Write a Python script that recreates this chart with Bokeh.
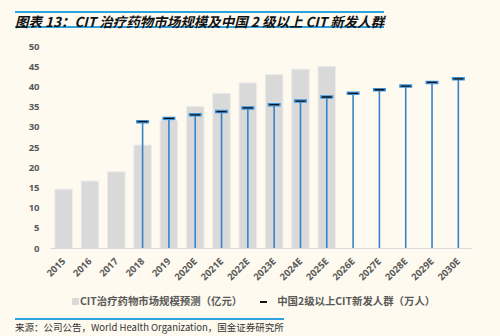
from bokeh.plotting import figure
from bokeh.layouts import column
from bokeh.models import FactorRange, Div, ColumnDataSource, SingleIntervalTicker
from bokeh.embed import file_html
from bokeh.resources import INLINE
from math import pi

years = ["2015", "2016", "2017", "2018", "2019", "2020E", "2021E", "2022E",
         "2023E", "2024E", "2025E", "2026E", "2027E", "2028E", "2029E", "2030E"]
market = [14.7, 16.7, 19.0, 25.6, 31.7, 35.2, 38.4, 41.0, 43.1, 44.4, 45.1]
pop_years = ["2018", "2019", "2020E", "2021E", "2022E", "2023E", "2024E", "2025E",
             "2026E", "2027E", "2028E", "2029E", "2030E"]
population = [31.4, 32.2, 33.1, 33.9, 34.8, 35.6, 36.5, 37.5, 38.4, 39.3, 40.2, 41.1, 42.0]

title_text = "图表 13：CIT 治疗药物市场规模及中国 2 级以上 CIT 新发人群"
legend_bar = "CIT治疗药物市场规模预测（亿元）"
legend_pop = "中国2级以上CIT新发人群（万人）"
source_text = "来源：公司公告，World Health Organization，国金证券研究所"

BG = "#FEFAEF"
BLUE_RULE = "#2BA3E3"
BAR_GRAY = "#D9D9D9"
CJK = "Noto Sans CJK SC"

title_div = Div(
    text=f'<div style="margin-top:11px;border-top:2px solid {BLUE_RULE};'
         f'border-bottom:2px solid {BLUE_RULE};height:17px;line-height:17px;'
         f'font-family:\'{CJK}\';font-weight:bold;font-style:italic;font-size:13.5px;'
         f'color:#111;white-space:nowrap">{title_text}</div>',
    width=477, height=40, margin=(0, 0, 0, 15))

p = figure(width=500, height=250, x_range=FactorRange(*years, range_padding=0),
           y_range=(0, 50), output_backend="svg", toolbar_location=None,
           min_border_left=50, min_border_right=29, min_border_top=6,
           min_border_bottom=42, background_fill_color=BG, border_fill_color=BG,
           outline_line_color=None, margin=0)

bar_src = ColumnDataSource(dict(x=years[:len(market)], top=market))
p.vbar(x="x", top="top", width=0.67, source=bar_src, fill_color=BAR_GRAY,
       line_color="#EDEDED", line_width=1)

pop_src = ColumnDataSource(dict(x=pop_years, y=population, y0=[0] * len(population)))
p.segment(x0="x", y0="y0", x1="x", y1="y", source=pop_src, line_color="#3584C8",
          line_width=1.6)
p.scatter(x="x", y="y", source=pop_src, marker="dash", size=13, line_color="#3A92DB",
          line_width=3.5)
p.scatter(x="x", y="y", source=pop_src, marker="dash", size=10,
          line_color="#111111", line_width=1.3)

p.xgrid.visible = False
p.ygrid.visible = False
p.yaxis.ticker = SingleIntervalTicker(interval=5)
p.yaxis.axis_line_color = None
p.yaxis.major_tick_line_color = None
p.yaxis.minor_tick_line_color = None
p.xaxis.axis_line_color = "#D9D9D9"
p.xaxis.major_tick_line_color = None
p.xaxis.minor_tick_line_color = None
for ax in (p.xaxis, p.yaxis):
    ax.major_label_text_font = "Open Sans"
    ax.major_label_text_font_style = "bold"
    ax.major_label_text_font_size = "9.5px"
    ax.major_label_text_color = "#595959"
p.xaxis.major_label_orientation = pi / 4

legend_div = Div(
    text=f'<div style="font-family:\'{CJK}\';font-size:10.4px;font-weight:bold;'
         f'color:#595959;white-space:nowrap;line-height:22px">'
         f'<span style="display:inline-block;width:7px;height:7px;background:{BAR_GRAY};'
         f'margin-right:1px"></span>{legend_bar}'
         f'<span style="display:inline-block;width:7px;height:2px;background:#111;'
         f'vertical-align:middle;margin:0 10px 0 18px"></span>{legend_pop}</div>',
    width=430, height=22, margin=(0, 0, 0, 72))

source_div = Div(
    text=f'<div style="margin-top:6px;border-top:2px solid {BLUE_RULE};'
         f'padding-top:1px;font-family:\'{CJK}\';font-size:9.5px;color:#333;'
         f'white-space:nowrap;line-height:13px">{source_text}</div>',
    width=477, height=24, margin=(0, 0, 0, 15))

layout = column(title_div, p, legend_div, source_div, spacing=0,
                styles={"background-color": BG})

open("out.html", "w").write(file_html(layout, INLINE))
